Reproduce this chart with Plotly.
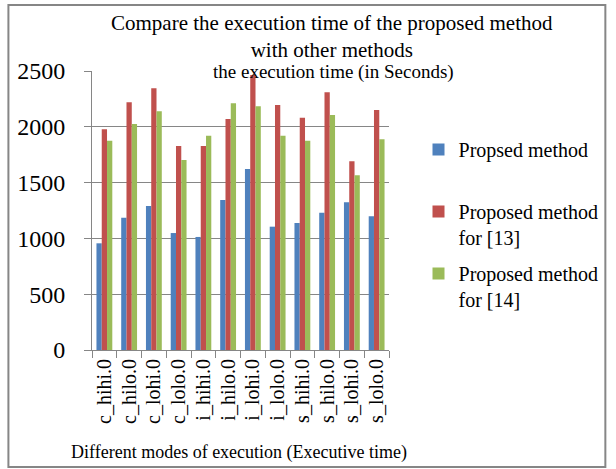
import plotly.graph_objects as go

categories = ["c_hihi.0", "c_hilo.0", "c_lohi.0", "c_lolo.0",
              "i_hihi.0", "i_hilo.0", "i_lohi.0", "i_lolo.0",
              "s_hihi.0", "s_hilo.0", "s_lohi.0", "s_lolo.0"]
proposed = [956, 1185, 1290, 1048, 1013, 1344, 1622, 1105, 1138, 1230, 1323, 1198]
method13 = [1977, 2219, 2345, 1828, 1828, 2070, 2464, 2195, 2081, 2309, 1691, 2150]
method14 = [1875, 2025, 2139, 1703, 1920, 2210, 2184, 1920, 1875, 2106, 1565, 1888]

series_names = ["Propsed method<br> ", "Proposed method<br>for [13]", "Proposed method<br>for [14]"]
colors = ["#4F81BD", "#C0504D", "#9BBB59"]

W, H = 616, 469
L, R, T, B = 92, 394, 71, 350  # plot area in pixels
def px_x(x):
    return (x - L) / (R - L)
def px_y(y):
    return (B - y) / (B - T)

FONT = "Liberation Serif"
GRAY = "#868686"

fig = go.Figure()
for i, (name, vals, col) in enumerate(zip(series_names, [proposed, method13, method14], colors)):
    fig.add_trace(go.Bar(x=categories, y=vals, name=name, marker_color=col,
                         marker_line_width=0, legendgroup="g%d" % i))

fig.update_layout(
    width=W, height=H,
    margin=dict(l=L, r=W - R, t=T, b=H - B),
    paper_bgcolor="white", plot_bgcolor="white",
    barmode="group", bargap=0.36, bargroupgap=0,
    font=dict(family=FONT, color="black"),
    legend=dict(x=px_x(424), y=px_y(130), xanchor="left", yanchor="top",
                font=dict(family=FONT, size=20, color="black"),
                valign="top", bgcolor="rgba(0,0,0,0)", tracegroupgap=7),
    showlegend=True,
)
fig.update_xaxes(showline=True, linecolor=GRAY, linewidth=1, showgrid=False,
                 ticks="outside", tickson="boundaries", ticklen=7, tickcolor=GRAY,
                 tickangle=-90, tickfont=dict(family=FONT, size=20, color="black"))
fig.update_yaxes(range=[0, 2500], dtick=500, showline=True, linecolor=GRAY, linewidth=1,
                 showgrid=True, gridcolor=GRAY, gridwidth=1, zeroline=False,
                 ticks="outside", ticklen=7, tickcolor=GRAY, ticklabelstandoff=14,
                 tickfont=dict(family=FONT, size=24, color="black"))

fig.add_annotation(text="Compare the execution time of the proposed method<br>with other methods",
                   xref="paper", yref="paper", x=px_x(336), y=px_y(36),
                   xanchor="center", yanchor="middle", showarrow=False,
                   font=dict(family=FONT, size=21, color="black"))
fig.add_annotation(text="the execution time (in Seconds)", xref="paper", yref="paper",
                   x=px_x(338), y=px_y(72), xanchor="center", yanchor="middle",
                   showarrow=False, font=dict(family=FONT, size=19, color="black"))
fig.add_annotation(text="Different modes of execution (Executive time)", xref="paper", yref="paper",
                   x=px_x(241), y=px_y(452), xanchor="center", yanchor="middle",
                   showarrow=False, font=dict(family=FONT, size=18, color="black"))

fig.add_shape(type="rect", xref="paper", yref="paper",
              x0=px_x(7), x1=px_x(614), y0=px_y(467), y1=px_y(5),
              line=dict(color=GRAY, width=2), fillcolor="rgba(0,0,0,0)", layer="below")

fig.write_html("out.html")
